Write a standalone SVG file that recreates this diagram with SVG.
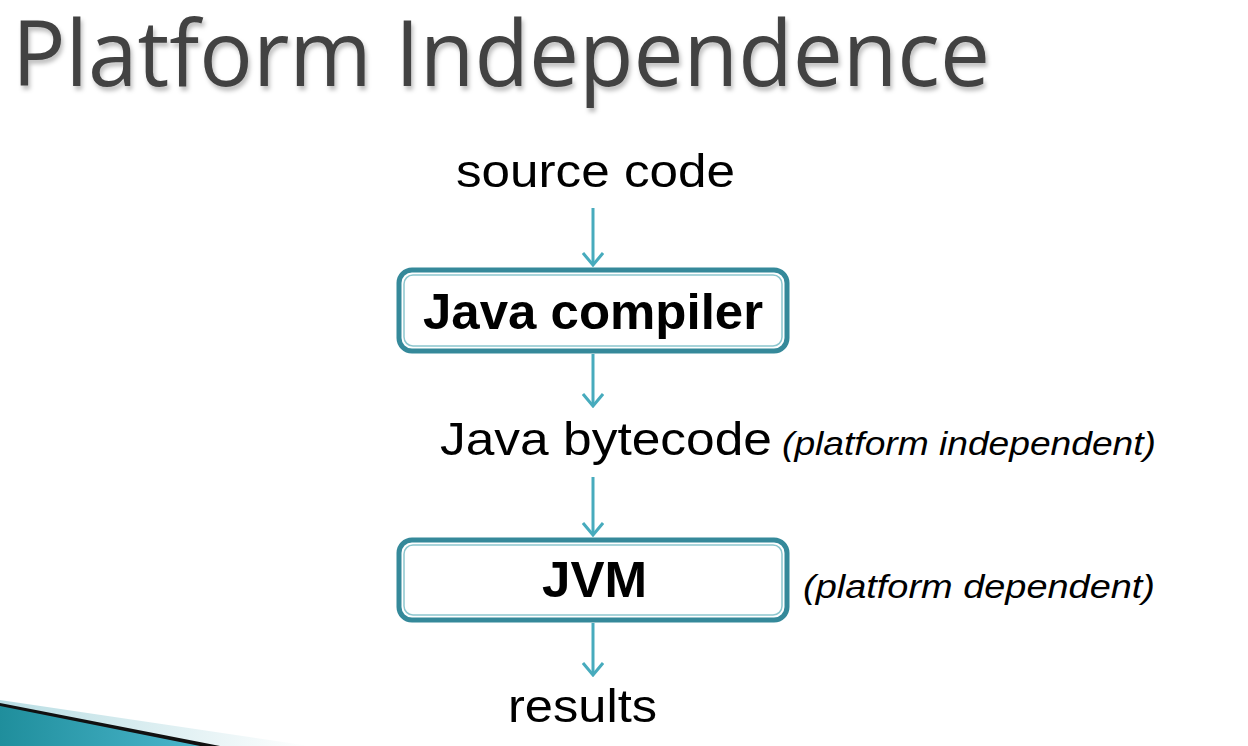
<svg xmlns="http://www.w3.org/2000/svg" width="1248" height="746" viewBox="0 0 1248 746">
<defs>
<style>
.lbl{font-family:"Liberation Sans",Arial,sans-serif;fill:#000;}
.reg{font-size:46px;}
.bold{font-size:50px;font-weight:bold;}
.ital{font-size:34px;font-style:italic;}
.box-o{fill:#fff;stroke:#35899a;stroke-width:5;}
.box-i{fill:none;stroke:#8cc6ce;stroke-width:1.5;}
.edge{stroke:#47abbd;stroke-width:3;fill:none;}
</style>
<marker id="arr" viewBox="0 0 16 22" refX="14" refY="11" markerWidth="16" markerHeight="22" markerUnits="userSpaceOnUse" orient="auto">
<path d="M2,1 L14,11 L2,21" fill="none" stroke="#47abbd" stroke-width="3"/>
</marker>
<filter id="sh" x="-5%" y="-40%" width="110%" height="180%">
<feDropShadow dx="2" dy="4" stdDeviation="2" flood-color="#000" flood-opacity="0.25"/>
</filter>
<linearGradient id="teal" x1="0" y1="0" x2="1" y2="0">
<stop offset="0" stop-color="#1f8e9c"/>
<stop offset="1" stop-color="#4bb6cc"/>
</linearGradient>
<linearGradient id="pale" x1="0" y1="0" x2="1" y2="0">
<stop offset="0" stop-color="#b8dde3"/>
<stop offset="1" stop-color="#ffffff"/>
</linearGradient>
</defs>
<rect width="1248" height="746" fill="#fff"/>

<g id="decoration">
<polygon points="0,700 310,746 0,746" fill="url(#pale)"/>
<polygon points="0,703 220,746 0,746" fill="#111"/>
<polygon points="0,706 200,746 0,746" fill="url(#teal)"/>
</g>

<g id="title">
<text x="12" y="86" font-family="'Open Sans','DejaVu Sans',sans-serif" font-size="92" fill="#424242" textLength="978" lengthAdjust="spacingAndGlyphs" filter="url(#sh)">Platform Independence</text>
</g>

<g id="connectors">
<line class="edge" x1="593" y1="208" x2="593" y2="265" marker-end="url(#arr)"/>
<line class="edge" x1="593" y1="354" x2="593" y2="406" marker-end="url(#arr)"/>
<line class="edge" x1="593" y1="477" x2="593" y2="535" marker-end="url(#arr)"/>
<line class="edge" x1="593" y1="623" x2="593" y2="675" marker-end="url(#arr)"/>
</g>

<g id="source-code">
<text class="lbl reg" x="456" y="187" textLength="279" lengthAdjust="spacingAndGlyphs">source code</text>
</g>

<g id="java-compiler">
<rect class="box-o" x="399" y="270" width="388" height="81" rx="13"/>
<rect class="box-i" x="404" y="275" width="378" height="71" rx="9"/>
<text class="lbl bold" x="423" y="329" textLength="340" lengthAdjust="spacingAndGlyphs">Java compiler</text>
</g>

<g id="java-bytecode">
<text class="lbl reg" x="440" y="455" textLength="332" lengthAdjust="spacingAndGlyphs">Java bytecode</text>
<text class="lbl ital" x="782" y="455" textLength="374" lengthAdjust="spacingAndGlyphs">(platform independent)</text>
</g>

<g id="jvm">
<rect class="box-o" x="399" y="540" width="388" height="80" rx="13"/>
<rect class="box-i" x="404" y="545" width="378" height="70" rx="9"/>
<text class="lbl bold" x="542" y="597" textLength="105" lengthAdjust="spacingAndGlyphs">JVM</text>
<text class="lbl ital" x="803" y="598" textLength="352" lengthAdjust="spacingAndGlyphs">(platform dependent)</text>
</g>

<g id="results">
<text class="lbl reg" x="508" y="722" textLength="149" lengthAdjust="spacingAndGlyphs">results</text>
</g>
</svg>
